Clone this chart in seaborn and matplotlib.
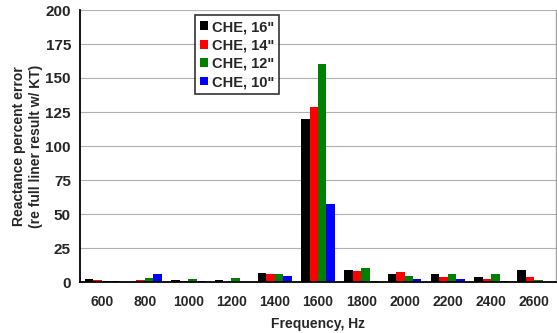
import pandas as pd
import matplotlib.pyplot as plt
import seaborn as sns
from matplotlib.ticker import FixedLocator

# Values
freqs = ['600', '800', '1000', '1200', '1400', '1600', '1800', '2000', '2200', '2400', '2600']
che16 = [2.0, 0.3, 1.2, 1.7, 6.4, 120, 9.0, 5.6, 6.1, 3.4, 9.0]
che14 = [1.7, 1.2, 1.0, 0.3, 5.6, 129, 8.3, 7.1, 3.9, 2.5, 3.9]
che12 = [1.0, 2.7, 2.0, 3.2, 5.6, 160, 10.0, 4.7, 5.6, 6.1, 1.7]
che10 = [1.0, 5.6, 1.0, 0.0, 4.2, 57.5, 0.5, 2.2, 2.0, 0.5, 0.0]
series = ['CHE, 16"', 'CHE, 14"', 'CHE, 12"', 'CHE, 10"']
colors = ['#000000', '#ff0000', '#008000', '#0000ff']

rows = []
for name, vals in zip(series, [che16, che14, che12, che10]):
    for f, v in zip(freqs, vals):
        rows.append({'Frequency': f, 'Error': v, 'Series': name})
df = pd.DataFrame(rows)

sns.set_style('white')
plt.rcParams['font.family'] = ['Liberation Sans', 'DejaVu Sans']
plt.rcParams['font.weight'] = 'bold'

fig = plt.figure(figsize=(5.57, 3.33), dpi=100)
ax = fig.add_axes([80 / 557, 51 / 333, 476 / 557, 272 / 333])

sns.barplot(data=df, x='Frequency', y='Error', hue='Series', order=freqs,
            hue_order=series, palette=colors, width=0.78, saturation=1,
            linewidth=0, ax=ax)

ax.set_xlim(-0.5, len(freqs) - 0.5)
ax.set_ylim(0, 200)
ax.set_yticks(range(0, 201, 25))
ax.yaxis.grid(True, color='#b0b0b0', linewidth=0.8)
ax.set_axisbelow(True)

# tick marks sit between the categories
ax.tick_params(axis='x', which='major', length=0, labelsize=10, pad=9)
ax.xaxis.set_minor_locator(FixedLocator([i + 0.5 for i in range(-1, len(freqs))]))
ax.tick_params(axis='x', which='minor', length=4, width=1, color='black', direction='out')
ax.tick_params(axis='y', length=3, width=1, color='black', direction='out', labelsize=11)
for lbl in ax.get_xticklabels() + ax.get_yticklabels():
    lbl.set_fontweight('bold')

for s in ['left', 'bottom']:
    ax.spines[s].set_color('black')
    ax.spines[s].set_linewidth(1.3)
ax.spines['top'].set_visible(False)
ax.spines['right'].set_color('#a0a0a0')
ax.spines['right'].set_linewidth(1)

ax.set_xlabel('Frequency, Hz', fontsize=10, fontweight='bold', labelpad=6)
ax.set_ylabel('Reactance percent error\n(re full liner result w/ KT)', fontsize=10,
              fontweight='bold', labelpad=2)

leg = ax.legend(loc='upper left', bbox_to_anchor=(0.2416, 0.982), frameon=True,
                fancybox=False, edgecolor='black', handlelength=0.55, handleheight=0.55,
                handletextpad=0.25, borderpad=0.35, labelspacing=0.3,
                borderaxespad=0, prop={'weight': 'bold', 'size': 10.5})
leg.get_frame().set_linewidth(1.2)

fig.savefig('out.png', dpi=100)
